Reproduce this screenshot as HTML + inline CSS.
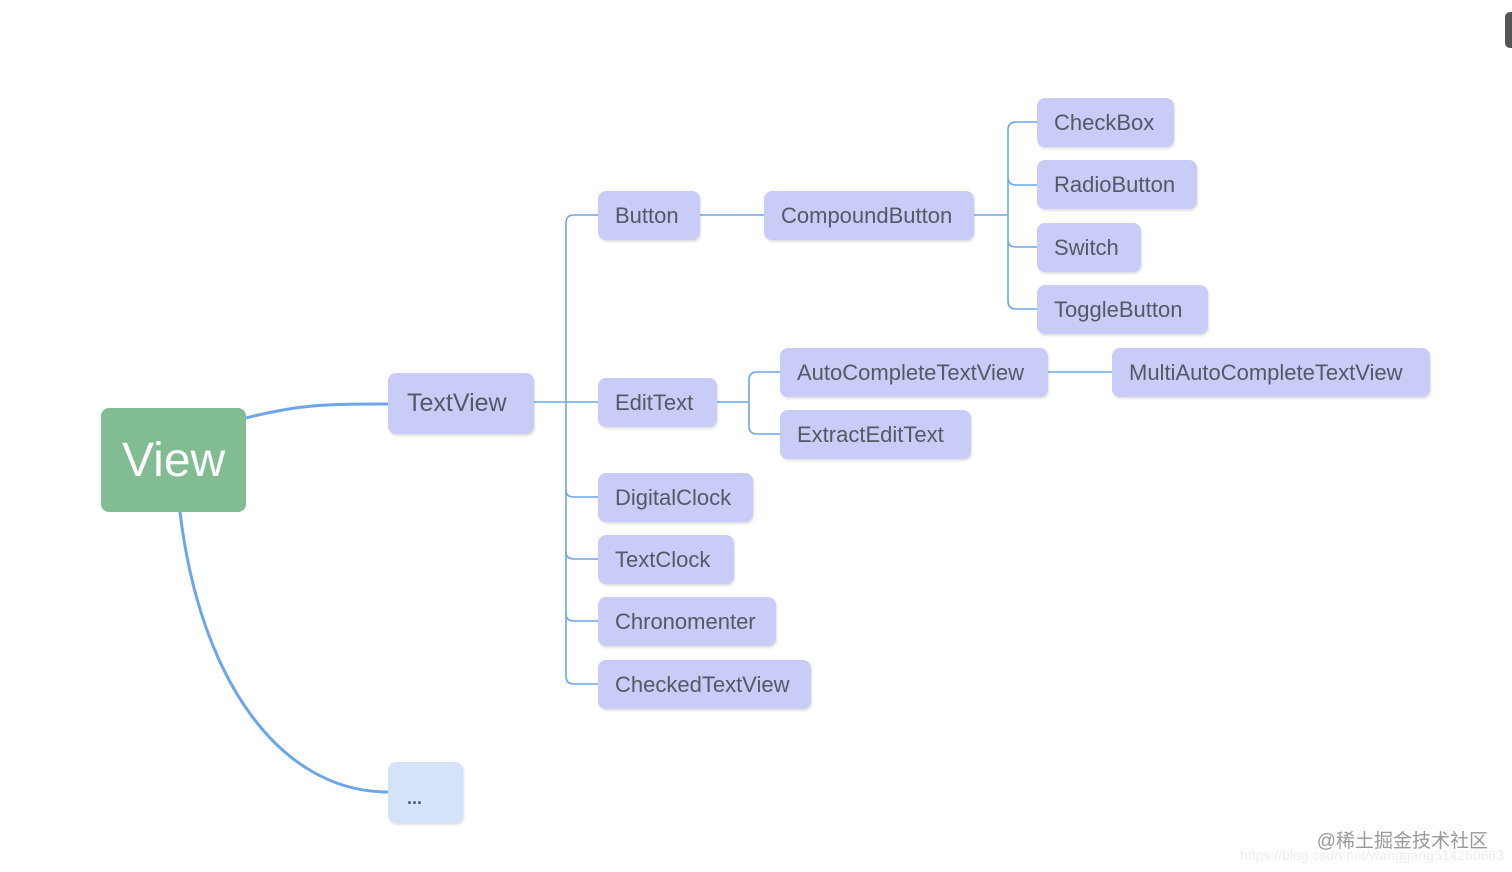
<!DOCTYPE html>
<html><head><meta charset="utf-8"><style>
body{margin:0;width:1512px;height:872px;background:#fff;position:relative;overflow:hidden;font-family:"Liberation Sans",sans-serif}
.n{position:absolute;background:#c9ccf6;border-radius:8px;color:#565866;font-size:22px;display:flex;align-items:center;padding-left:17px;box-shadow:1px 2px 2px rgba(0,0,0,0.12);box-sizing:border-box;white-space:nowrap}
svg{position:absolute;left:0;top:0}
</style></head><body>
<svg width="1512" height="872" fill="none" stroke="#6ea5e8">
<path d="M246 418 C300 404 330 404 388 404" stroke-width="3"/>
<path d="M180 512 C200 680 280 792 388 792" stroke-width="3"/>
<g stroke-width="1.6">
<path d="M534 402 H598"/>
<path d="M574 215 H598 M566 223 V676 M574 215 Q566 215 566 223 M566 676 Q566 684 574 684 H598"/>
<path d="M566 490 Q566 497 574 497 H598 M566 552 Q566 559 574 559 H598 M566 614 Q566 621 574 621 H598"/>
<path d="M700 215 H764 M974 215 H1008"/>
<path d="M1016 122 H1037 M1008 130 V301 M1016 122 Q1008 122 1008 130 M1008 301 Q1008 309 1016 309 H1037 M1008 177 Q1008 185 1016 185 H1037 M1008 240 Q1008 247 1016 247 H1037"/>
<path d="M717 402 H749 M757 372 H780 M749 380 V426 M757 372 Q749 372 749 380 M749 426 Q749 434 757 434 H780"/>
<path d="M1048 372 H1112"/>
</g>
</svg>
<div class="n" style="left:101px;top:408px;width:145px;height:104px;background:#82bc93;color:#fff;font-size:48px;box-shadow:none;padding-left:21px">View</div>
<div class="n" style="left:388px;top:373px;width:146px;height:61px;font-size:25px;padding-left:19px">TextView</div>
<div class="n" style="left:598px;top:191px;width:102px;height:49px">Button</div>
<div class="n" style="left:764px;top:191px;width:210px;height:49px">CompoundButton</div>
<div class="n" style="left:1037px;top:98px;width:137px;height:49px">CheckBox</div>
<div class="n" style="left:1037px;top:160px;width:160px;height:49px">RadioButton</div>
<div class="n" style="left:1037px;top:223px;width:104px;height:49px">Switch</div>
<div class="n" style="left:1037px;top:285px;width:171px;height:49px">ToggleButton</div>
<div class="n" style="left:598px;top:378px;width:119px;height:49px">EditText</div>
<div class="n" style="left:780px;top:348px;width:268px;height:49px">AutoCompleteTextView</div>
<div class="n" style="left:1112px;top:348px;width:318px;height:49px">MultiAutoCompleteTextView</div>
<div class="n" style="left:780px;top:410px;width:191px;height:49px">ExtractEditText</div>
<div class="n" style="left:598px;top:473px;width:155px;height:49px">DigitalClock</div>
<div class="n" style="left:598px;top:535px;width:136px;height:49px">TextClock</div>
<div class="n" style="left:598px;top:597px;width:178px;height:49px">Chronomenter</div>
<div class="n" style="left:598px;top:660px;width:213px;height:49px">CheckedTextView</div>
<div class="n" style="left:388px;top:762px;width:75px;height:61px;background:#d4e3fa;font-size:18px;font-weight:bold;padding-top:12px;padding-left:19px">...</div>
<div style="position:absolute;left:1505px;top:12px;width:12px;height:36px;background:#555;border-radius:5px"></div>
<div style="position:absolute;right:24px;top:826px;font-size:19px;color:#999;font-family:'Liberation Sans','Noto Sans CJK SC',sans-serif">@稀土掘金技术社区</div>
<div style="position:absolute;right:8px;top:847px;font-size:14px;color:#eee">https://blog.csdn.net/wanggang514260663</div>
</body></html>
